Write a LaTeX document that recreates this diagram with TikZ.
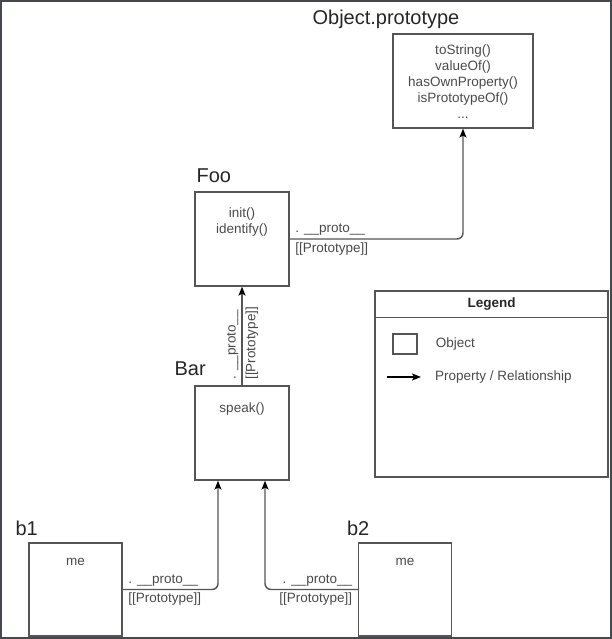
\documentclass[tikz,border=0pt]{standalone}
\usepackage{fontspec}
\setmainfont{Liberation Sans}
\usetikzlibrary{positioning, arrows.meta, calc}

\definecolor{linegray}{HTML}{555555}
\definecolor{textgray}{HTML}{4A4A4A}
\definecolor{framegray}{HTML}{45484D}

\begin{document}
\begin{tikzpicture}[x=1pt, y=-1pt,
    obj/.style={
        draw=linegray,
        line width=1.2pt,
        minimum width=94pt,
        minimum height=94pt,
        inner sep=0pt
      },
    title/.style={font=\fontsize{20}{24}\selectfont, text=black!85, inner sep=0pt},
    member/.style={font=\fontsize{13.5}{16}\selectfont, text=textgray, align=center, inner sep=0pt},
    lbl/.style={font=\fontsize{13.5}{16}\selectfont, text=textgray, inner xsep=5pt, inner ysep=3pt},
    link/.style={draw=linegray, line width=1.4pt, rounded corners=6pt,
      -{Stealth[length=9pt, width=7pt, inset=2pt, color=black]}}
  ]
    \useasboundingbox (0,0) rectangle (612,639);
    \draw[framegray, line width=4pt] (0,0) rectangle (612,639);

    % objects
    \node[obj, minimum width=140pt] (objproto) at (463,81) {};
    \node[member, below=11pt of objproto.north] (objmembers) {toString()\\valueOf()\\hasOwnProperty()\\isPrototypeOf()\\...};
    \node[obj] (foo) at (242,239) {};
    \node[member, below=16pt of foo.north] (foomembers) {init()\\identify()};
    \node[obj] (bar) at (242,433) {};
    \node[member, below=17pt of bar.north] (barmembers) {speak()};
    \node[obj, minimum width=93pt, minimum height=93pt] (b1) at (75.5,589.5) {};
    \node[member, below=16pt of b1.north] (b1members) {me};
    \node[obj, minimum width=93pt, minimum height=93pt] (b2) at (405,589.5) {};
    \node[member, below=16pt of b2.north] (b2members) {me};

    % titles
    \node[title, above right=9pt and -80pt of objproto.north west, anchor=base west] (objtitle) {Object.prototype};
    \node[title, above right=9pt and 2pt of foo.north west, anchor=base west] (footitle) {Foo};
    \node[title, above right=10pt and -20pt of bar.north west, anchor=base west] (bartitle) {Bar};
    \node[title, above right=7pt and -13pt of b1.north west, anchor=base west] (b1title) {b1};
    \node[title, above right=7pt and -11pt of b2.north west, anchor=base west] (b2title) {b2};

    % prototype links
    \coordinate (bar in1) at ($(bar.south)+(-24,0)$);
    \coordinate (bar in2) at ($(bar.south)+(23,0)$);
    \draw[link] (bar.north) -- node[lbl, pos=0, rotate=90, anchor=south west] {. \_\_proto\_\_}
      node[lbl, pos=0, rotate=90, anchor=north west] {[[Prototype]]} (foo.south);
    \draw[link] (foo.east) -| node[lbl, pos=0, anchor=south west] {. \_\_proto\_\_}
      node[lbl, pos=0, anchor=north west] {[[Prototype]]} (objproto.south);
    \draw[link] (b1.east) -| node[lbl, pos=0, anchor=south west] {. \_\_proto\_\_}
      node[lbl, pos=0, anchor=north west] {[[Prototype]]} (bar in1);
    \draw[link] (b2.west) -| node[lbl, pos=0, anchor=south east] {. \_\_proto\_\_}
      node[lbl, pos=0, anchor=north east] {[[Prototype]]} (bar in2);

    % legend
    \node[obj, minimum width=233pt, minimum height=186pt] (legend) at (491.5,384) {};
    \draw[linegray, line width=1.2pt] ([yshift=-27pt]legend.north west) -- ([yshift=-27pt]legend.north east);
    \node[font=\bfseries\fontsize{13.5}{16}\selectfont, text=black!85] (legendtitle) at ([yshift=-13.5pt]legend.north) {Legend};
    \node[obj, minimum width=24pt, minimum height=20pt] (legobj) at (405,344) {};
    \node[lbl, right=18pt of legobj, inner sep=0pt] (legobjtext) {Object};
    \coordinate (legfrom) at (387,377);
    \coordinate (legto) at (421,377);
    \draw[link, draw=black] (legfrom) -- (legto);
    \node[lbl, right=14pt of legto, inner sep=0pt] (legrel) {Property / Relationship};
  \end{tikzpicture}
\end{document}
